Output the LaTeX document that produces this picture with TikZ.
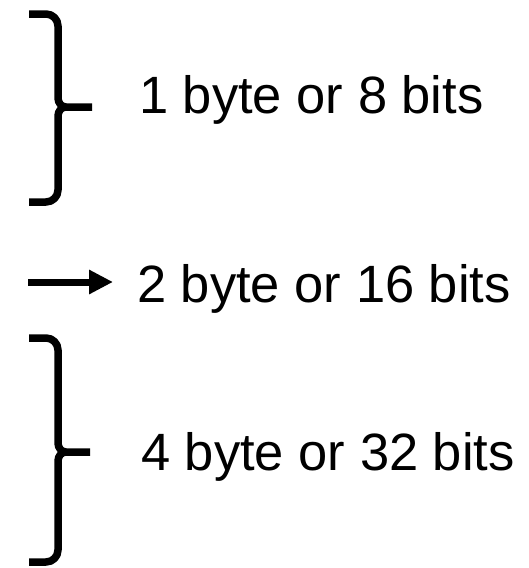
\documentclass[tikz,border=0pt]{standalone}
\usepackage{fontspec}
\setmainfont{Liberation Sans}
\usepackage{tikz}
\usetikzlibrary{positioning,arrows.meta}

\begin{document}
\begin{tikzpicture}[
    x=1pt, y=-1pt,
    every node/.style={
        font=\fontsize{52.5}{60}\selectfont,
        inner sep=0pt,
        anchor=base west
    },
    brace/.style={
        line width=7.5pt,
        line join=round
    },
    arrow/.style={
        -{Triangle[length=24pt,width=23pt]},
        line width=7pt
    }
]
\useasboundingbox (0,0) rectangle (529,568);

\node (one)  at (139,113) {1 byte or 8 bits};
\node (two)  at (137,302) {2 byte or 16 bits};
\node (four) at (141,470) {4 byte or 32 bits};

% braces
\coordinate (t1) at (92,107);
\coordinate (t4) at (90,452);
\draw[brace] (29,14) -- (46,14) to[out=0,in=90] (58,26) -- (58,98) to[out=-90,in=180] (66,107) -- (t1);
\draw[brace] (29,202) -- (46,202) to[out=0,in=-90] (58,190) -- (58,116) to[out=90,in=180] (66,107);
\draw[brace] (29,338) -- (46,338) to[out=0,in=90] (58,350) -- (58,443) to[out=-90,in=180] (66,452) -- (t4);
\draw[brace] (29,562) -- (46,562) to[out=0,in=-90] (58,550) -- (58,461) to[out=90,in=180] (66,452);

% arrow
\coordinate (a0) at (28,282);
\coordinate (a1) at (113,282);
\draw[arrow] (a0) -- (a1);

\end{tikzpicture}
\end{document}
